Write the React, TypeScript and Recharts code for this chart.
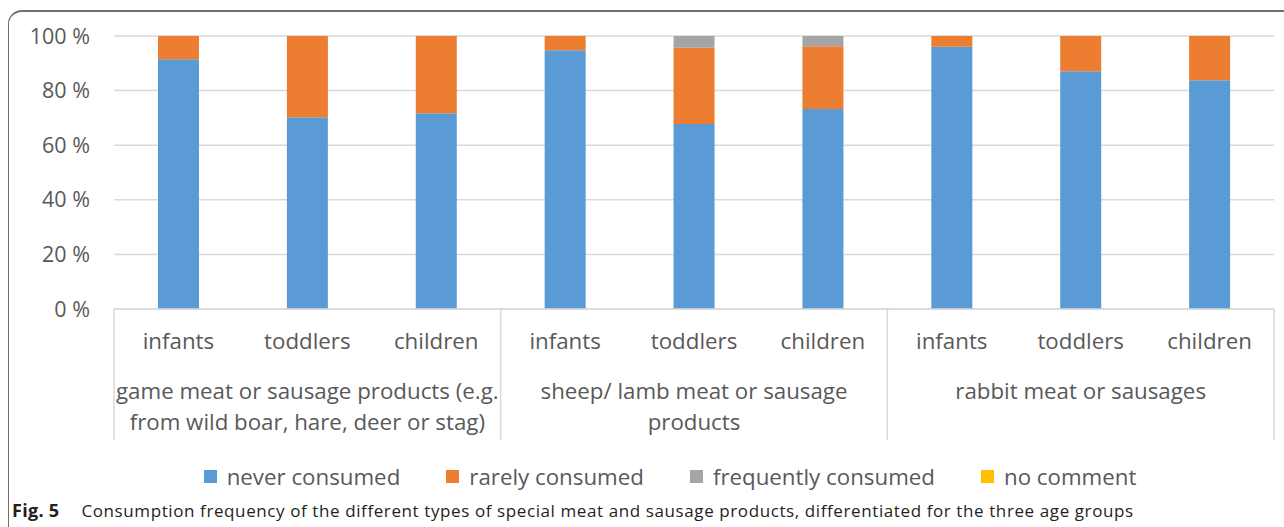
import React from 'react';
import { BarChart, Bar, XAxis, YAxis, CartesianGrid, Legend } from 'recharts';

const groups = [
  ['game meat or sausage products (e.g.', 'from wild boar, hare, deer or stag)'],
  ['sheep/ lamb meat or sausage', 'products'],
  ['rabbit meat or sausages'],
];
const ages = ['infants', 'toddlers', 'children'];

const neverConsumed = [91.5, 70.2, 71.7, 94.8, 67.8, 73.3, 96.1, 87.1, 83.8];
const rarelyConsumed = [8.5, 29.8, 28.3, 5.2, 27.9, 22.9, 3.9, 12.9, 16.2];
const frequentlyConsumed = [0, 0, 0, 0, 4.3, 3.8, 0, 0, 0];
const noComment = [0, 0, 0, 0, 0, 0, 0, 0, 0];
const yTicks = [0, 20, 40, 60, 80, 100];

const data = neverConsumed.map((v, i) => ({
  key: `${i}`,
  age: ages[i % 3],
  group: Math.floor(i / 3),
  never: v,
  rarely: rarelyConsumed[i],
  frequently: frequentlyConsumed[i],
  none: noComment[i],
}));

const series = [
  { key: 'never', name: 'never consumed', color: '#5B9BD5' },
  { key: 'rarely', name: 'rarely consumed', color: '#ED7D31' },
  { key: 'frequently', name: 'frequently consumed', color: '#A5A5A5' },
  { key: 'none', name: 'no comment', color: '#FFC000' },
];

const FONT = '"Open Sans", sans-serif';
const TEXT = '#595959';
const LINE = '#d9d9d9';
const PLOT_W = 1160;
const BAND = PLOT_W / data.length;
const FS = 22.3;

const AgeTick = (props: any) => {
  const { x, y, payload } = props;
  return (
    <text x={x} y={y + 40} textAnchor="middle" fill={TEXT} fontSize={FS} fontFamily={FONT}>
      {payload.value}
    </text>
  );
};

const GroupTick = (props: any) => {
  const { x, y, index } = props;
  const g = Math.floor(index / 3);
  const pos = index % 3;
  return (
    <g>
      {pos === 0 && (
        <line x1={x - BAND / 2} x2={x - BAND / 2} y1={y - 60} y2={y + 71} stroke={LINE} strokeWidth={1.5} />
      )}
      {index === data.length - 1 && (
        <line x1={x + BAND / 2} x2={x + BAND / 2} y1={y - 60} y2={y + 71} stroke={LINE} strokeWidth={1.5} />
      )}
      {pos === 1 &&
        groups[g].map((line, li) => (
          <text
            key={li}
            x={x}
            y={y + 30 + li * 31}
            textAnchor="middle"
            fill={TEXT}
            fontSize={FS}
            fontFamily={FONT}
          >
            {line}
          </text>
        ))}
    </g>
  );
};

const LegendContent = () => (
  <div
    style={{
      display: 'flex',
      justifyContent: 'center',
      alignItems: 'center',
      height: 30,
      paddingLeft: 66,
      fontFamily: FONT,
      fontSize: FS,
      color: TEXT,
    }}
  >
    {series.map((s) => (
      <div key={s.key} style={{ display: 'flex', alignItems: 'center', margin: '0 23px' }}>
        <span style={{ width: 13, height: 13, background: s.color, marginRight: 10, display: 'inline-block' }} />
        <span>{s.name}</span>
      </div>
    ))}
  </div>
);

export default function App() {
  return (
    <div style={{ position: 'absolute', left: 0, top: 0, width: 1284, height: 527, overflow: 'hidden', background: '#fff' }}>
      <div
        style={{
          position: 'absolute',
          left: 8,
          top: 10,
          width: 1320,
          height: 600,
          borderTop: '2px solid #6f6f6f',
          borderLeft: '1.5px solid #6f6f6f',
          borderTopLeftRadius: 14,
        }}
      />
      <BarChart
        width={1284}
        height={527}
        data={data}
        margin={{ top: 36, right: 10, left: 0, bottom: 36 }}
        barSize={41}
        style={{ position: 'absolute', left: 0, top: 0 }}
      >
        <CartesianGrid vertical={false} stroke={LINE} strokeWidth={1.5} />
        <XAxis
          xAxisId="age"
          dataKey="key"
          tick={(p: any) => <AgeTick {...p} payload={{ value: data[p.index].age }} />}
          tickLine={false}
          tickSize={0}
          tickMargin={0}
          height={60}
          axisLine={{ stroke: LINE, strokeWidth: 1.5 }}
          interval={0}
        />
        <XAxis
          xAxisId="group"
          dataKey="key"
          tick={GroupTick}
          tickLine={false}
          tickSize={0}
          tickMargin={0}
          height={92}
          axisLine={false}
          interval={0}
        />
        <YAxis
          domain={[0, 100]}
          ticks={yTicks}
          tickFormatter={(v) => `${v} %`}
          axisLine={false}
          tickLine={false}
          tickSize={0}
          tickMargin={24}
          width={114}
          tick={{ fill: TEXT, fontSize: 21.5, fontFamily: FONT }}
        />
        <Legend verticalAlign="bottom" content={LegendContent} />
        {series.map((s) => (
          <Bar
            key={s.key}
            xAxisId="age"
            dataKey={s.key}
            name={s.name}
            stackId="a"
            fill={s.color}
            isAnimationActive={false}
          />
        ))}
      </BarChart>
      <div
        style={{
          position: 'absolute',
          left: 12,
          top: 498,
          fontFamily: FONT,
          fontSize: 17,
          letterSpacing: 0.6,
          color: '#231f20',
          whiteSpace: 'nowrap',
        }}
      >
        <b style={{ letterSpacing: 0.3, fontSize: 18 }}>Fig. 5</b>
        <span style={{ marginLeft: 22 }}>
          Consumption frequency of the different types of special meat and sausage products, differentiated for the three age groups
        </span>
      </div>
    </div>
  );
}
